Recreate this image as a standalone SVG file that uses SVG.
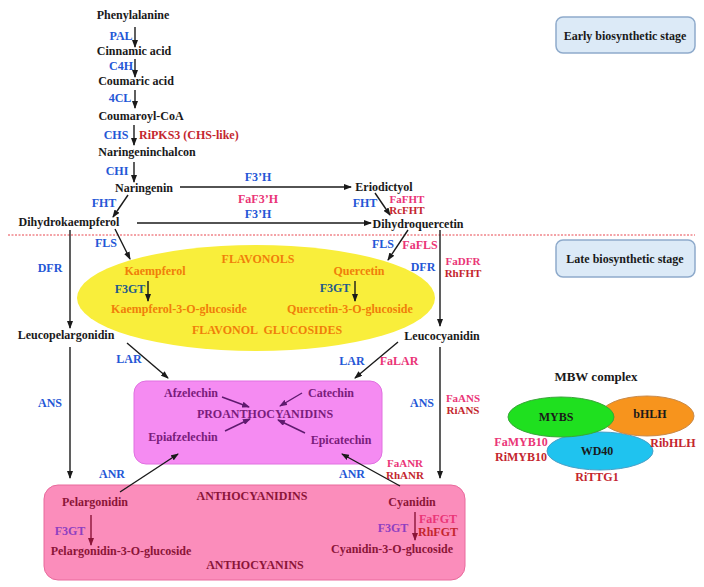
<svg xmlns="http://www.w3.org/2000/svg" width="704" height="587" viewBox="0 0 704 587">
<defs>
<marker id="ah" markerUnits="userSpaceOnUse" markerWidth="8" markerHeight="6" refX="7" refY="3" orient="auto"><path d="M0,0 L8,3 L0,6 z" fill="#1a1a1a"/></marker>
<marker id="ahp" markerUnits="userSpaceOnUse" markerWidth="8" markerHeight="6" refX="7" refY="3" orient="auto"><path d="M0,0 L8,3 L0,6 z" fill="#5e1a6e"/></marker>
<marker id="ahm" markerUnits="userSpaceOnUse" markerWidth="8" markerHeight="6" refX="7" refY="3" orient="auto"><path d="M0,0 L8,3 L0,6 z" fill="#8b1538"/></marker>
<style>
text{font-family:"Liberation Serif","Times New Roman",serif;font-weight:bold;font-size:12px;text-anchor:middle}
.k{fill:#1a1a1a}
.b{fill:#2457d6}
.p{fill:#ea3577}
.r{fill:#c4262e}
.o{fill:#f07f0a}
.t{fill:#1f5a8a}
.v{fill:#7a1c7c}
.m{fill:#8b1538}
.pu{fill:#8e3fc1}
.s{text-anchor:start}
.sm{font-size:11px}
.ln{stroke:#1a1a1a;stroke-width:1.4;fill:none;marker-end:url(#ah)}
.lp{stroke:#5e1a6e;stroke-width:1.4;fill:none;marker-end:url(#ahp)}
.lm{stroke:#8b1538;stroke-width:1.4;fill:none;marker-end:url(#ahm)}
.stage{fill:#dceaf7;stroke:#8eaacb;stroke-width:1.5}
</style>
</defs>
<rect width="704" height="587" fill="#ffffff"/>

<!-- stage boxes and separator -->
<line x1="8" y1="235" x2="695" y2="235" stroke="#e8474f" stroke-width="1" stroke-dasharray="2,1.5"/>
<g id="early-stage"><rect class="stage" x="556" y="17" width="139" height="36" rx="7"/><text class="k" x="625" y="40">Early biosynthetic stage</text></g>
<g id="late-stage"><rect class="stage" x="556" y="240" width="139" height="37" rx="7"/><text class="k" x="625" y="263">Late biosynthetic stage</text></g>

<!-- background regions -->
<g id="flavonols-region"><ellipse cx="256" cy="298" rx="179" ry="53" fill="#f9ee3b"/>
<text class="o" x="258" y="263">FLAVONOLS</text>
<text class="o" x="267" y="334" xml:space="preserve">FLAVONOL  GLUCOSIDES</text></g>
<g id="proanthocyanidins-region"><rect x="134" y="381" width="248" height="83" rx="12" fill="#f58bf2" stroke="#e070e0" stroke-width="1"/>
<text class="v" x="265" y="418">PROANTHOCYANIDINS</text></g>
<g id="anthocyanins-region"><rect x="44" y="485" width="421" height="95" rx="14" fill="#fb8dbb" stroke="#e86a9c" stroke-width="1"/>
<text class="m" x="252" y="500">ANTHOCYANIDINS</text>
<text class="m" x="255" y="569">ANTHOCYANINS</text></g>

<!-- connectors -->
<g id="connectors">
<line class="ln" x1="135" y1="27" x2="135" y2="47"/>
<line class="ln" x1="135" y1="59" x2="135" y2="77"/>
<line class="ln" x1="135" y1="90" x2="135" y2="108"/>
<line class="ln" x1="134" y1="125" x2="134" y2="145"/>
<line class="ln" x1="134" y1="162" x2="134" y2="182"/>
<line class="ln" x1="180" y1="187" x2="351" y2="187"/>
<line class="ln" x1="137" y1="223" x2="371" y2="223"/>
<line class="ln" x1="128" y1="195" x2="113" y2="217"/>
<line class="ln" x1="375" y1="193" x2="390" y2="215"/>
<line class="ln" x1="115" y1="229" x2="130" y2="259"/>
<line class="ln" x1="408" y1="230" x2="388" y2="260"/>
<line class="ln" x1="148" y1="281" x2="148" y2="301"/>
<line class="ln" x1="355" y1="281" x2="355" y2="301"/>
<line class="ln" x1="70" y1="230" x2="70" y2="328"/>
<line class="ln" x1="440" y1="230" x2="440" y2="326"/>
<line class="ln" x1="127" y1="343" x2="168" y2="378"/>
<line class="ln" x1="398" y1="342" x2="355" y2="378"/>
<line class="ln" x1="70" y1="347" x2="70" y2="478"/>
<line class="ln" x1="440" y1="347" x2="440" y2="478"/>
<line class="ln" x1="120" y1="492" x2="178" y2="454"/>
<line class="ln" x1="400" y1="486" x2="342" y2="454"/>
<line class="lp" x1="222" y1="397" x2="249" y2="407"/>
<line class="lp" x1="302" y1="393" x2="280" y2="406"/>
<line class="lp" x1="225" y1="431" x2="250" y2="419"/>
<line class="lp" x1="305" y1="433" x2="278" y2="420"/>
<line class="lm" x1="91" y1="515" x2="91" y2="545"/>
<line class="lm" x1="415" y1="512" x2="415" y2="540"/>
</g>

<!-- enzyme labels -->
<g id="enzymes">
<text class="b" x="121" y="40">PAL</text>
<text class="b" x="121" y="70">C4H</text>
<text class="b" x="120" y="102">4CL</text>
<text class="b" x="116" y="139">CHS</text>
<text class="r s" x="139" y="139">RiPKS3 (CHS-like)</text>
<text class="b" x="117" y="175">CHI</text>
<text class="b" x="258" y="181">F3’H</text>
<text class="p" x="258" y="203">FaF3’H</text>
<text class="b" x="258" y="218">F3’H</text>
<text class="b" x="104" y="207">FHT</text>
<text class="b" x="365" y="207">FHT</text>
<text class="p sm" x="407" y="203">FaFHT</text>
<text class="r sm" x="407" y="214">RcFHT</text>
<text class="b" x="106" y="247">FLS</text>
<text class="b" x="383" y="248">FLS</text>
<text class="p" x="420" y="249">FaFLS</text>
<text class="b" x="50" y="272">DFR</text>
<text class="b" x="423" y="271">DFR</text>
<text class="p sm" x="463" y="265">FaDFR</text>
<text class="r sm" x="463" y="277">RhFHT</text>
<text class="t" x="130" y="293">F3GT</text>
<text class="t" x="335" y="292">F3GT</text>
<text class="b" x="129" y="363">LAR</text>
<text class="b" x="352" y="365">LAR</text>
<text class="p" x="399" y="365">FaLAR</text>
<text class="b" x="50" y="407">ANS</text>
<text class="b" x="422" y="407">ANS</text>
<text class="p sm" x="463" y="402">FaANS</text>
<text class="r sm" x="463" y="414">RiANS</text>
<text class="b" x="112" y="478">ANR</text>
<text class="b" x="352" y="478">ANR</text>
<text class="p sm" x="405" y="467">FaANR</text>
<text class="r sm" x="405" y="479">RhANR</text>
<text class="pu" x="70" y="535">F3GT</text>
<text class="pu" x="393" y="532">F3GT</text>
<text class="p" x="438" y="523">FaFGT</text>
<text class="r" x="438" y="536">RhFGT</text>
</g>

<!-- compound nodes -->
<g id="phenylalanine"><text class="k" x="133" y="19">Phenylalanine</text></g>
<g id="cinnamic-acid"><text class="k" x="134" y="55">Cinnamic acid</text></g>
<g id="coumaric-acid"><text class="k" x="136" y="85">Coumaric acid</text></g>
<g id="coumaroyl-coa"><text class="k" x="141" y="120">Coumaroyl-CoA</text></g>
<g id="naringeninchalcon"><text class="k" x="147" y="156">Naringeninchalcon</text></g>
<g id="naringenin"><text class="k" x="144" y="192">Naringenin</text></g>
<g id="eriodictyol"><text class="k" x="384" y="191">Eriodictyol</text></g>
<g id="dihydrokaempferol"><text class="k" x="69" y="226">Dihydrokaempferol</text></g>
<g id="dihydroquercetin"><text class="k" x="418" y="228">Dihydroquercetin</text></g>
<g id="kaempferol"><text class="o" x="155" y="275">Kaempferol</text></g>
<g id="kaempferol-glc"><text class="o" x="179" y="313">Kaempferol-3-O-glucoside</text></g>
<g id="quercetin"><text class="o" x="359" y="275">Quercetin</text></g>
<g id="quercetin-glc"><text class="o" x="350" y="313">Quercetin-3-O-glucoside</text></g>
<g id="leucopelargonidin"><text class="k" x="66" y="339">Leucopelargonidin</text></g>
<g id="leucocyanidin"><text class="k" x="442" y="340">Leucocyanidin</text></g>
<g id="afzelechin"><text class="v" x="191" y="397">Afzelechin</text></g>
<g id="catechin"><text class="v" x="331" y="397">Catechin</text></g>
<g id="epiafzelechin"><text class="v" x="183" y="441">Epiafzelechin</text></g>
<g id="epicatechin"><text class="v" x="341" y="444">Epicatechin</text></g>
<g id="pelargonidin"><text class="m" x="95" y="506">Pelargonidin</text></g>
<g id="cyanidin"><text class="m" x="412" y="506">Cyanidin</text></g>
<g id="pelargonidin-glc"><text class="m" x="121" y="555">Pelargonidin-3-O-glucoside</text></g>
<g id="cyanidin-glc"><text class="m" x="392" y="553">Cyanidin-3-O-glucoside</text></g>

<!-- MBW complex -->
<g id="mbw-complex">
<text class="k" x="596" y="381" style="font-size:13px">MBW complex</text>
<g id="wd40"><ellipse cx="600" cy="451" rx="53" ry="19" fill="#1fc3ef" stroke="#4a9fc6" stroke-width="1"/><text class="k" x="597" y="455">WD40</text></g>
<g id="bhlh"><ellipse cx="647" cy="416" rx="47" ry="20" fill="#f7941d" stroke="#c98a4a" stroke-width="1"/><text class="k" x="650" y="418">bHLH</text></g>
<g id="mybs"><ellipse cx="561" cy="417" rx="53" ry="20" fill="#1fe01f" stroke="#3aa53a" stroke-width="1"/><text class="k" x="556" y="421">MYBS</text></g>
<text class="p" x="521" y="446">FaMYB10</text>
<text class="r" x="521" y="461">RiMYB10</text>
<text class="r" x="673" y="447">RibHLH</text>
<text class="r" x="597" y="481">RiTTG1</text>
</g>
</svg>
